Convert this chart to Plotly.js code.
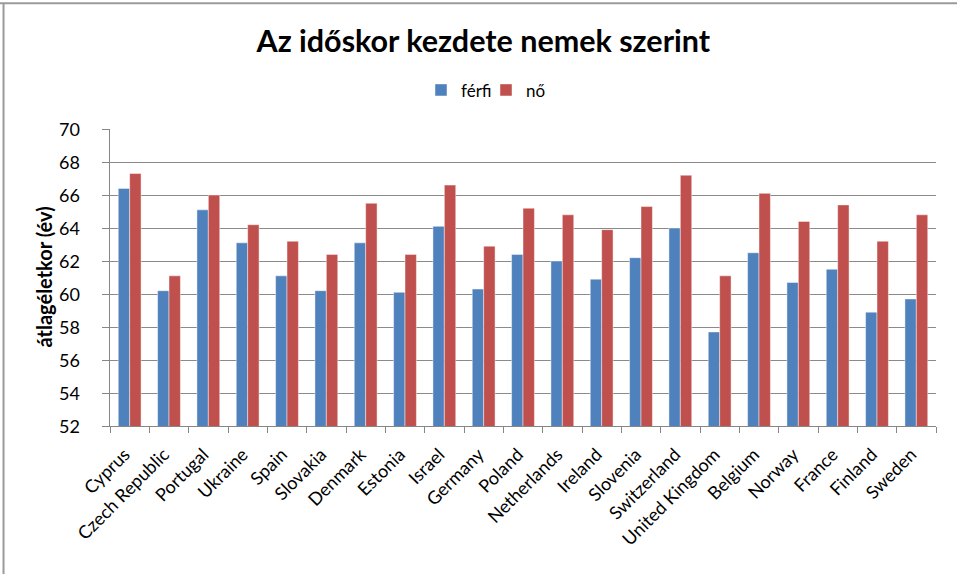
<!DOCTYPE html>
<html>
<head>
<meta charset="utf-8">
<script src="https://cdn.plot.ly/plotly-3.0.1.min.js"></script>
<style>
  html, body { margin: 0; padding: 0; background: #fff; }
  #chart { width: 957px; height: 574px; }
</style>
</head>
<body>
<div id="chart"></div>
<script>
const countries = ["Cyprus", "Czech Republic", "Portugal", "Ukraine", "Spain", "Slovakia", "Denmark", "Estonia", "Israel", "Germany", "Poland", "Netherlands", "Ireland", "Slovenia", "Switzerland", "United Kingdom", "Belgium", "Norway", "France", "Finland", "Sweden"];
const ferfi = [66.4, 60.2, 65.1, 63.1, 61.1, 60.2, 63.1, 60.1, 64.1, 60.3, 62.4, 62.0, 60.9, 62.2, 64.0, 57.7, 62.5, 60.7, 61.5, 58.9, 59.7];
const no = [67.3, 61.1, 66.0, 64.2, 63.2, 62.4, 65.5, 62.4, 66.6, 62.9, 65.2, 64.8, 63.9, 65.3, 67.2, 61.1, 66.1, 64.4, 65.4, 63.2, 64.8];
const seriesNames = ["férfi", "nő"];
const yTicks = [52, 54, 56, 58, 60, 62, 64, 66, 68, 70];

const FONT = "Lato, 'Liberation Sans', sans-serif";

const traces = [
  {
    type: "bar", name: seriesNames[0], x: countries, y: ferfi, legend: "legend",
    marker: { color: "#4F81BD", line: { color: "rgba(255,255,255,0.45)", width: 1 } },
    hoverinfo: "x+y+name"
  },
  {
    type: "bar", name: seriesNames[1], x: countries, y: no, legend: "legend2",
    marker: { color: "#C0504D", line: { color: "rgba(255,255,255,0.45)", width: 1 } },
    hoverinfo: "x+y+name"
  }
];

// y tick labels placed through the y scale, a little away from the axis
const yLabelAnnotations = yTicks.map(v => ({
  xref: "paper", yref: "y", x: -28 / 826, y: v,
  xanchor: "right", yanchor: "middle", showarrow: false,
  text: String(v), font: { family: FONT, size: 18, color: "#000" }
}));

const legendBase = {
  orientation: "h", xanchor: "left", y: 1.13, yanchor: "middle",
  font: { family: FONT, size: 17, color: "#000" },
  itemwidth: 30, bgcolor: "rgba(0,0,0,0)"
};

const layout = {
  width: 957, height: 574,
  margin: { l: 110, r: 21, t: 129, b: 148, pad: 0 },
  paper_bgcolor: "#fff", plot_bgcolor: "#fff",
  font: { family: FONT, color: "#000", size: 15 },
  barmode: "group", bargap: 0.42, bargroupgap: 0,
  title: {
    text: "<b>Az időskor kezdete nemek szerint</b>",
    font: { family: FONT, size: 30.5, color: "#000" },
    x: 0.505, xref: "container", xanchor: "center",
    y: 1 - 41 / 574, yref: "container", yanchor: "middle"
  },
  showlegend: true,
  legend: Object.assign({}, legendBase, { x: (421 - 110) / 826 }),
  legend2: Object.assign({}, legendBase, { x: (486 - 110) / 826 }),
  xaxis: {
    type: "category",
    tickangle: -45,
    ticks: "outside", tickson: "boundaries", ticklen: 6, tickcolor: "#868686",
    ticklabelstandoff: 10, ticklabelshift: -5,
    showline: true, linecolor: "#868686", linewidth: 1,
    showgrid: false, zeroline: false,
    tickfont: { family: FONT, size: 18, color: "#000" }
  },
  yaxis: {
    range: [52, 70], tickvals: yTicks,
    ticks: "outside", ticklen: 7, tickcolor: "#868686",
    showticklabels: false,
    showline: true, linecolor: "#868686", linewidth: 1,
    showgrid: true, gridcolor: "#8a8a8a", gridwidth: 1,
    zeroline: false
  },
  annotations: yLabelAnnotations.concat([
    {
      xref: "paper", yref: "paper", x: (43 - 110) / 826, y: 0.5,
      xanchor: "center", yanchor: "middle", textangle: -90, showarrow: false,
      text: "<b>átlagéletkor (év)</b>", font: { family: FONT, size: 20, color: "#000" }
    }
  ]),
  shapes: [
    { type: "line", xref: "paper", yref: "paper", x0: -0.1332, x1: 1.0266, y0: 1.4238, y1: 1.4238,
      line: { color: "#9a9a9a", width: 2 } },
    { type: "line", xref: "paper", yref: "paper", x0: -0.1289, x1: -0.1289, y0: 1.4238, y1: -0.5012,
      line: { color: "#9a9a9a", width: 2 } }
  ]
};

Plotly.newPlot("chart", traces, layout, { displayModeBar: false, staticPlot: true });
</script>
</body>
</html>
